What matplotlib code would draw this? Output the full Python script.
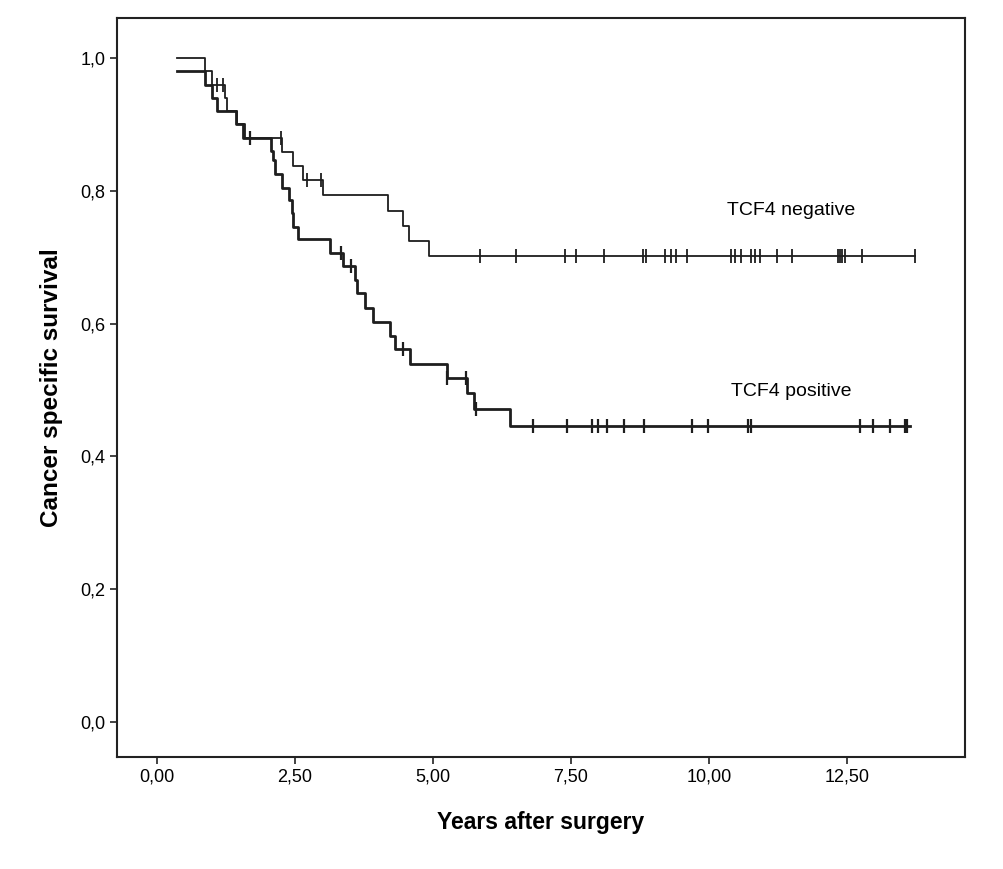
import numpy as np
import matplotlib
matplotlib.use("Agg")
import matplotlib.pyplot as plt

plt.rcParams["font.family"] = ["Liberation Sans", "DejaVu Sans"]

# Kaplan-Meier steps (years, survival)
neg_times = [0.37, 0.87, 1.00, 1.23, 1.27, 1.45, 1.60, 2.26, 2.47, 2.65, 3.00,
             4.19, 4.46, 4.57, 4.93, 13.73]
neg_surv = [1.000, 0.980, 0.960, 0.940, 0.920, 0.900, 0.880, 0.859, 0.837, 0.816,
            0.794, 0.770, 0.747, 0.725, 0.702, 0.702]
neg_censor = [1.08, 1.20, 2.24, 2.72, 2.98, 5.85, 6.51, 7.39, 7.60, 8.10, 8.80,
              8.86, 9.20, 9.32, 9.41, 9.61, 10.41, 10.47, 10.58, 10.77, 10.83,
              10.92, 11.23, 11.50, 12.34, 12.38, 12.42, 12.46, 12.77, 13.73]

pos_times = [0.37, 0.87, 0.99, 1.08, 1.44, 1.55, 2.07, 2.10, 2.13, 2.26, 2.40,
             2.44, 2.47, 2.56, 3.13, 3.38, 3.58, 3.63, 3.77, 3.91, 4.22, 4.32,
             4.58, 5.25, 5.62, 5.74, 6.39, 13.64]
pos_surv = [0.980, 0.960, 0.940, 0.920, 0.900, 0.880, 0.860, 0.846, 0.826, 0.804,
            0.786, 0.766, 0.746, 0.727, 0.706, 0.687, 0.666, 0.646, 0.624, 0.603,
            0.581, 0.561, 0.539, 0.518, 0.496, 0.471, 0.446, 0.446]
pos_censor = [1.68, 3.33, 3.51, 4.46, 5.25, 5.60, 5.79, 6.82, 7.43, 7.89, 8.00,
              8.15, 8.47, 8.83, 9.69, 9.99, 10.71, 10.77, 12.74, 12.97, 13.28,
              13.55, 13.60]

x_ticks = [0, 2.5, 5, 7.5, 10, 12.5]
x_labels = ["0,00", "2,50", "5,00", "7,50", "10,00", "12,50"]
y_ticks = [0.0, 0.2, 0.4, 0.6, 0.8, 1.0]
y_labels = ["0,0", "0,2", "0,4", "0,6", "0,8", "1,0"]


def censor_levels(times, surv, cens):
    idx = np.searchsorted(times, cens, side="right") - 1
    return np.array(surv)[idx]


fig = plt.figure(figsize=(10.04, 8.69), dpi=100)
ax = fig.add_axes([0.1165, 0.129, 0.8445, 0.850])

line_col = "#1e1e1e"
ax.step(neg_times, neg_surv, where="post", color=line_col, lw=1.3)
ax.plot(neg_censor, censor_levels(neg_times, neg_surv, neg_censor), ls="none",
        marker="|", ms=10, mew=1.3, color=line_col)

ax.step(pos_times, pos_surv, where="post", color=line_col, lw=2.0)
ax.plot(pos_censor, censor_levels(pos_times, pos_surv, pos_censor), ls="none",
        marker="|", ms=10, mew=1.6, color=line_col)

ax.text(11.5, 0.771, "TCF4 negative", ha="center", va="center", fontsize=14)
ax.text(11.5, 0.497, "TCF4 positive", ha="center", va="center", fontsize=14)

ax.set_xlim(-0.725, 14.64)
ax.set_ylim(-0.053, 1.060)
ax.set_xticks(x_ticks)
ax.set_xticklabels(x_labels)
ax.set_yticks(y_ticks)
ax.set_yticklabels(y_labels)
ax.tick_params(axis="both", labelsize=13, length=5, width=1.2, color="#222222")

ax.set_xlabel("Years after surgery", fontsize=16.5, fontweight="bold", labelpad=18)
ax.set_ylabel("Cancer specific survival", fontsize=17.5, fontweight="bold", labelpad=12)

for sp in ax.spines.values():
    sp.set_linewidth(1.5)
    sp.set_color("#222222")

fig.savefig("out.png", dpi=100, facecolor="white")
